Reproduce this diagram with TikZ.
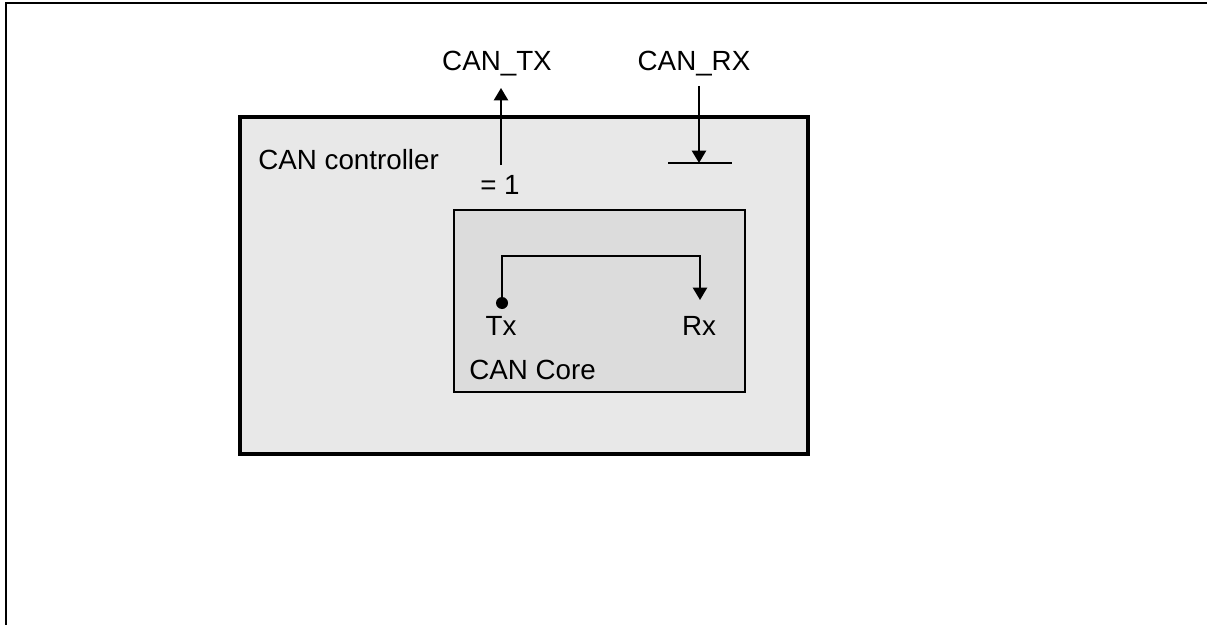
\documentclass[tikz,border=0pt]{standalone}
\usepackage{fontspec}
\setmainfont{Liberation Sans}
\usetikzlibrary{arrows.meta}
\definecolor{ctrlgrey}{HTML}{E8E8E8}
\definecolor{coregrey}{HTML}{DCDCDC}
\tikzset{
  lbl/.style={inner sep=0pt,font=\fontsize{15.8}{18}\selectfont},
  sig/.style={line width=1.1pt,-{Triangle[width=8pt,length=7pt]}},
  ctrlbox/.style={draw,line width=1.8pt,fill=ctrlgrey},
  corebox/.style={draw,line width=1.1pt,fill=coregrey}
}
\begin{document}
\begin{tikzpicture}[x=0.02cm,y=-0.02cm]
\useasboundingbox (0,0) rectangle (1207,625);
% frame
\draw[line width=1.1pt] (1207,3)--(6,3)--(6,625);
% controller and core
\draw[ctrlbox] (240,117) rectangle (808,454);
\draw[corebox] (454,210) rectangle (745,392);
\node[lbl,anchor=west] (ctrl) at (258,160) {CAN controller};
\node[lbl,anchor=west] (core) at (469,370) {CAN Core};
% pins
\node[lbl] (cantx) at (497,64) {CAN\_TX};
\node[lbl] (canrx) at (694,64) {CAN\_RX};
\node[lbl] (eqone) at (500,185) {= 1};
\node[lbl] (tx) at (501,326) {Tx};
\node[lbl] (rx) at (699,326) {Rx};
\coordinate (txfoot) at (501,165);
\coordinate (txtop) at (501,88);
\coordinate (rxtop) at (699,86);
\coordinate (rxbar) at (699,163);
\coordinate (barl) at (668,163);
\coordinate (barr) at (732,163);
\coordinate (loopl) at (502,256);
\coordinate (loopr) at (700,256);
\coordinate (txdot) at (502,303);
\coordinate (rxin) at (700,300);
\draw[sig] (txfoot)--(txtop);
\draw[sig] (rxtop)--(rxbar);
\draw[line width=1.1pt] (barl)--(barr);
% loop back
\draw[sig] (txdot)--(loopl)--(loopr)--(rxin);
\fill (txdot) circle (6);
\end{tikzpicture}
\end{document}
